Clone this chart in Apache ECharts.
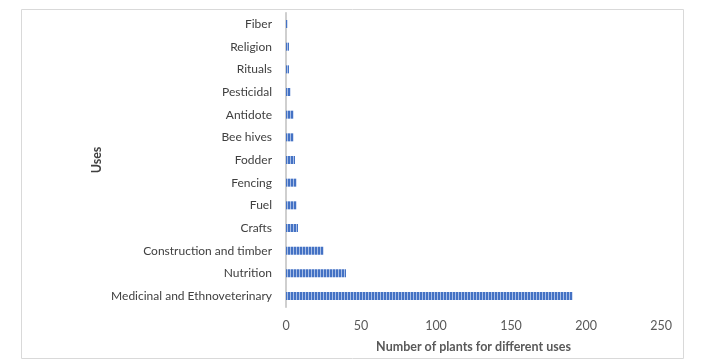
<!DOCTYPE html>
<html>
<head>
<meta charset="utf-8">
<script src="https://cdn.jsdelivr.net/npm/echarts@6/dist/echarts.min.js"></script>
<style>
html,body{margin:0;padding:0;background:#fff;}
#chart{width:722px;height:364px;}
</style>
</head>
<body>
<div id="chart"></div>
<script>
const categories = ["Medicinal and Ethnoveterinary","Nutrition","Construction and timber","Crafts","Fuel","Fencing","Fodder","Bee hives","Antidote","Pesticidal","Rituals","Religion","Fiber"];
const values = [191,40,25,8,7,7,6,5,5,3,2,2,1];
const xTicks = [0,50,100,150,200,250];
const xTitle = "Number of plants for different uses";
const yTitle = "Uses";

const pc = document.createElement('canvas');
pc.width = 3; pc.height = 4;
const ctx = pc.getContext('2d');
ctx.fillStyle = '#4472C4'; ctx.fillRect(0,0,3,4);
ctx.fillStyle = '#A8BEE6'; ctx.fillRect(2,0,1,4);

const chart = echarts.init(document.getElementById('chart'), null, {renderer:'canvas'});
const font = "Lato, sans-serif";
chart.setOption({
  animation:false,
  graphic:[{type:'rect', shape:{x:21.5,y:9.5,width:662,height:349}, style:{fill:null, stroke:'#D9D9D9', lineWidth:1}, silent:true, z:-1}],
  grid:{left:286, right:61, top:12.7, bottom:56.7},
  xAxis:{type:'value', min:xTicks[0], max:xTicks[xTicks.length-1], interval:50,
    axisLine:{show:false}, axisTick:{show:false}, splitLine:{show:false},
    axisLabel:{color:'#595959', fontSize:12.5, fontFamily:font, margin:12},
    name:xTitle, nameLocation:'middle', nameGap:33, nameMoveOverlap:false,
    nameTextStyle:{color:'#595959', fontSize:12.5, fontWeight:'bold', fontFamily:font}},
  yAxis:{type:'category', data:categories,
    axisLine:{show:true, lineStyle:{color:'#BFBFBF', width:1.5}}, axisTick:{show:false},
    axisLabel:{color:'#404040', fontSize:12, fontFamily:font, margin:14},
    name:yTitle, nameLocation:'middle', nameGap:183, nameRotate:90, nameMoveOverlap:false,
    nameTextStyle:{color:'#404040', fontSize:12.5, fontWeight:'bold', fontFamily:font}},
  series:[{type:'bar', data:values, barWidth:8,
    itemStyle:{color:{image:pc, repeat:'repeat'}}}]
});
</script>
</body>
</html>
